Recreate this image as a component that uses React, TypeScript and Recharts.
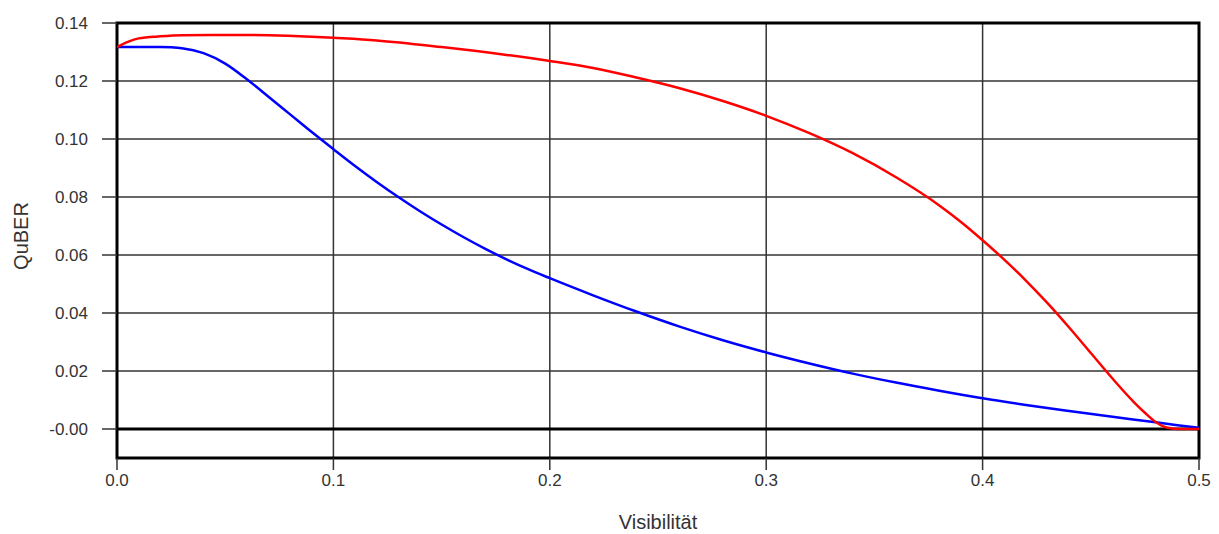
import {
  CartesianGrid,
  Label,
  Line,
  LineChart,
  ReferenceArea,
  ReferenceLine,
  XAxis,
  YAxis,
} from 'recharts';

const blueX = [
  0, 0.01, 0.02, 0.025, 0.03, 0.04, 0.05, 0.06, 0.07, 0.08, 0.09, 0.1, 0.11, 0.12, 0.13, 0.14,
  0.15, 0.16, 0.17, 0.18, 0.19, 0.2, 0.22, 0.24, 0.26, 0.28, 0.3, 0.32, 0.34, 0.36, 0.38, 0.4,
  0.42, 0.44, 0.46, 0.48, 0.49, 0.5,
];
const blueY = [
  0.1317, 0.1317, 0.1317, 0.1316, 0.1313, 0.1296, 0.126, 0.1206, 0.1146, 0.1085, 0.1024,
  0.0965, 0.0907, 0.0852, 0.08, 0.0751, 0.0705, 0.0662, 0.0622, 0.0585, 0.0551, 0.052, 0.0461,
  0.0405, 0.0353, 0.0306, 0.0264, 0.0226, 0.0191, 0.016, 0.0132, 0.0106, 0.0083, 0.0062, 0.0042,
  0.0023, 0.0013, 0.0004,
];

const redX = [
  0, 0.005, 0.01, 0.02, 0.03, 0.05, 0.07, 0.09, 0.1, 0.12, 0.15, 0.18, 0.2, 0.22, 0.24, 0.26,
  0.28, 0.3, 0.32, 0.34, 0.36, 0.38, 0.39, 0.4, 0.41, 0.42, 0.43, 0.44, 0.45, 0.46, 0.47, 0.475,
  0.48, 0.485, 0.49, 0.5,
];
const redY = [
  0.1317, 0.1335, 0.1347, 0.1354, 0.1358, 0.1359, 0.1358, 0.1353, 0.1349, 0.134, 0.1317, 0.129,
  0.1269, 0.1245, 0.1212, 0.1175, 0.1131, 0.108, 0.102, 0.0951, 0.0868, 0.0771, 0.0714, 0.0651,
  0.0584, 0.0512, 0.0434, 0.035, 0.0262, 0.0174, 0.0092, 0.0056, 0.0024, 0.0005, 0, 0,
];

const xTicks = [0, 0.1, 0.2, 0.3, 0.4, 0.5];
const yTicks = [0, 0.02, 0.04, 0.06, 0.08, 0.1, 0.12, 0.14];
const yTickLabels = ['-0.00', '0.02', '0.04', '0.06', '0.08', '0.10', '0.12', '0.14'];

const blueData = blueX.map((v, i) => ({ v, q: blueY[i] }));
const redData = redX.map((v, i) => ({ v, q: redY[i] }));

const font = '"Liberation Sans", Arial, sans-serif';
const tickStyle = { fontSize: 17, fill: '#333', fontFamily: font };

export default function App() {
  return (
    <div style={{ position: 'absolute', left: 0, top: 0, background: '#fff' }}>
      <LineChart width={1219} height={534} margin={{ top: 23, right: 20, bottom: 46, left: 0 }}>
        <CartesianGrid stroke="#333" strokeWidth={1.5} />
        <XAxis
          type="number"
          dataKey="v"
          domain={[0, 0.5]}
          ticks={xTicks}
          tickFormatter={(t: number) => t.toFixed(1)}
          height={30}
          tickSize={12}
          tickMargin={4}
          axisLine={false}
          tickLine={{ stroke: '#333', strokeWidth: 1.5 }}
          tick={tickStyle}
          allowDataOverflow
        >
          <Label
            content={() => (
              <text x={658} y={529} textAnchor="middle" fontSize={20} fill="#333" fontFamily={font}>
                Visibilität
              </text>
            )}
          />
        </XAxis>
        <YAxis
          type="number"
          domain={[-0.01, 0.14]}
          ticks={yTicks}
          tickFormatter={(t: number) => yTickLabels[yTicks.indexOf(t)] ?? ''}
          width={117}
          tickSize={15}
          tickMargin={14}
          axisLine={false}
          tickLine={{ stroke: '#333', strokeWidth: 1.5 }}
          tick={tickStyle}
          allowDataOverflow
        >
          <Label
            content={() => (
              <text
                x={28}
                y={236}
                textAnchor="middle"
                fontSize={20}
                fill="#333"
                fontFamily={font}
                transform="rotate(-90, 28, 236)"
              >
                QuBER
              </text>
            )}
          />
        </YAxis>
        <ReferenceLine y={0} stroke="#000" strokeWidth={3} />
        <Line
          data={blueData}
          dataKey="q"
          type="monotone"
          stroke="#0000ff"
          strokeWidth={2.5}
          dot={false}
          isAnimationActive={false}
        />
        <Line
          data={redData}
          dataKey="q"
          type="monotone"
          stroke="#ff0000"
          strokeWidth={2.5}
          dot={false}
          isAnimationActive={false}
        />
        <ReferenceArea
          x1={0}
          x2={0.5}
          y1={-0.01}
          y2={0.14}
          fill="none"
          fillOpacity={0}
          stroke="#000"
          strokeWidth={3}
          ifOverflow="visible"
        />
      </LineChart>
    </div>
  );
}
